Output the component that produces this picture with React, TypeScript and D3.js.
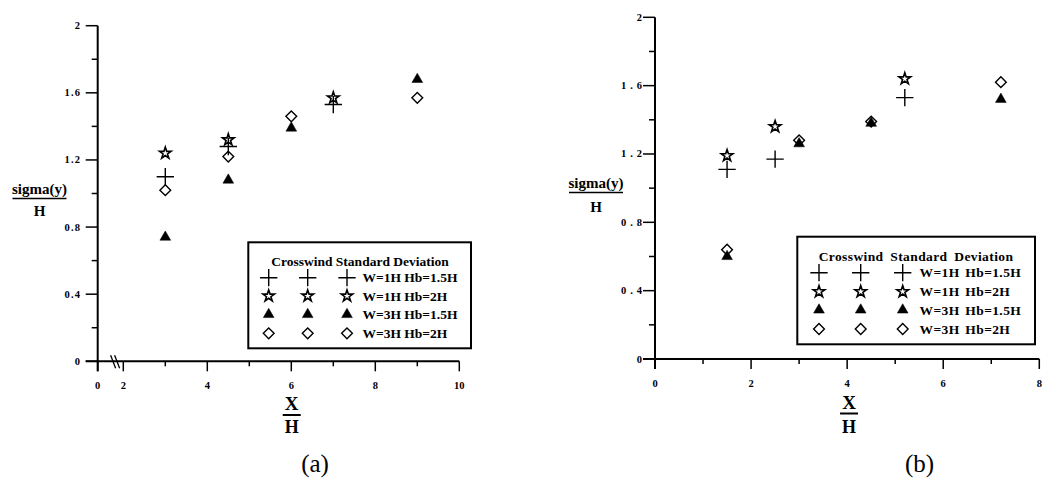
import React from "react";
import * as d3 from "d3";

// legend text
const legendTitle = "Crosswind Standard Deviation";
const seriesNames = ["W=1H Hb=1.5H", "W=1H Hb=2H", "W=3H Hb=1.5H", "W=3H Hb=2H"];
const seriesKinds = ["plus", "star", "triangle", "diamond"];

// panel (a) values
const aPlusX = [3, 4.5, 7];
const aPlusY = [1.1, 1.28, 1.53];
const aStarX = [3, 4.5, 7];
const aStarY = [1.24, 1.32, 1.57];
const aTriX = [3, 4.5, 6, 9];
const aTriY = [0.74, 1.08, 1.39, 1.68];
const aDiaX = [3, 4.5, 6, 9];
const aDiaY = [1.02, 1.22, 1.46, 1.57];

// panel (b) values
const bPlusX = [1.5, 2.5, 5.2];
const bPlusY = [1.11, 1.17, 1.53];
const bStarX = [1.5, 2.5, 5.2];
const bStarY = [1.19, 1.36, 1.64];
const bTriX = [1.5, 3, 4.5, 7.2];
const bTriY = [0.6, 1.26, 1.38, 1.52];
const bDiaX = [1.5, 3, 4.5, 7.2];
const bDiaY = [0.64, 1.28, 1.39, 1.62];

// ticks
const yMajor = [0, 0.4, 0.8, 1.2, 1.6, 2];
const yMinor = [0.2, 0.6, 1.0, 1.4, 1.8];
const aXMajor = [0, 2, 4, 6, 8, 10];
const aXMinor = [3, 5, 7, 9];
const bXMajor = [0, 2, 4, 6, 8];
const bXMinor = [1, 3, 5, 7];

const FONT = "'Liberation Serif', 'Times New Roman', serif";

const symbolPath = (kind: string) => {
  if (kind === "plus") return d3.symbol(d3.symbolPlus, 100)();
  if (kind === "star") return d3.symbol(d3.symbolStar, 42)();
  if (kind === "triangle") return d3.symbol(d3.symbolTriangle, 50)();
  return d3.symbol(d3.symbolDiamond2, 74)();
};

function Marker({ kind, x, y }: { kind: string; x: number; y: number }) {
  const filled = kind === "triangle";
  return (
    <path
      d={symbolPath(kind) || ""}
      transform={`translate(${x},${y})`}
      fill={filled ? "#000" : "none"}
      stroke="#000"
      strokeWidth={filled ? 0.5 : kind === "star" ? 1.6 : 1.4}
      strokeLinejoin="miter"
    />
  );
}

function Panel(props: any) {
  const { series, xDomain, xRange, xMajor, xMinor, yTop, yBottom, yAxisX, legend, lab, ytl, caption, brk } = props;
  const x = d3.scaleLinear().domain(xDomain).range(xRange);
  const y = d3.scaleLinear().domain([0, 2]).range([yBottom, yTop]);
  const xEnd = xRange[xRange.length - 1];
  const fmt = (v: number) => (v === 0 || v === 2 ? String(v) : d3.format(".1f")(v));

  return (
    <g fontFamily={FONT}>
      {/* axes */}
      <line x1={yAxisX} x2={yAxisX} y1={yTop} y2={yBottom + 10} stroke="#000" strokeWidth={2} />
      <line x1={yAxisX - 12} x2={xEnd} y1={yBottom} y2={yBottom} stroke="#000" strokeWidth={2} />
      {yMajor.map((v) => (
        <g key={"ym" + v}>
          <line x1={yAxisX - 12} x2={yAxisX} y1={y(v)} y2={y(v)} stroke="#000" strokeWidth={1.5} />
          <text x={yAxisX - ytl.gap} y={y(v) + 3.5} textAnchor="end" fontSize={10.5} fontWeight="bold" letterSpacing={ytl.ls}>
            {fmt(v)}
          </text>
        </g>
      ))}
      {yMinor.map((v) => (
        <line key={"yn" + v} x1={yAxisX - 6} x2={yAxisX} y1={y(v)} y2={y(v)} stroke="#000" strokeWidth={1.5} />
      ))}
      {xMajor.map((v: number) => (
        <g key={"xm" + v}>
          <line x1={x(v)} x2={x(v)} y1={yBottom} y2={yBottom + 10} stroke="#000" strokeWidth={1.5} />
          <text x={x(v)} y={yBottom + 28} textAnchor="middle" fontSize={10.5} fontWeight="bold">
            {v}
          </text>
        </g>
      ))}
      {xMinor.map((v: number) => (
        <line key={"xn" + v} x1={x(v)} x2={x(v)} y1={yBottom} y2={yBottom + 5} stroke="#000" strokeWidth={1.5} />
      ))}
      {brk != null &&
        [-2, 2].map((o) => (
          <line key={"br" + o} x1={x(brk) + o - 3} x2={x(brk) + o + 2} y1={yBottom - 6} y2={yBottom + 7} stroke="#000" strokeWidth={1.3} />
        ))}

      {/* points */}
      {series.map((s: any, i: number) =>
        s.xs.map((xv: number, j: number) => <Marker key={i + "-" + j} kind={seriesKinds[i]} x={x(xv)} y={y(s.ys[j])} />)
      )}

      {/* legend */}
      <rect x={legend.x} y={legend.y} width={legend.w} height={legend.h} fill="#fff" stroke="#000" strokeWidth={2} />
      <text x={legend.titleX} y={legend.titleY} textAnchor="middle" fontSize={legend.fs} fontWeight="bold" wordSpacing={legend.ws} letterSpacing={legend.ls}>
        {legendTitle}
      </text>
      {seriesNames.map((name, i) => (
        <g key={"lg" + i}>
          {legend.cols.map((cx: number) => (
            <Marker key={cx} kind={seriesKinds[i]} x={cx} y={legend.rows[i]} />
          ))}
          <text x={legend.textX} y={legend.rows[i] + 4.5} fontSize={legend.fs} fontWeight="bold" wordSpacing={legend.ws2} letterSpacing={legend.ls}>
            {name}
          </text>
        </g>
      ))}

      {/* axis titles */}
      <text x={lab.yx} y={lab.sy} textAnchor="middle" fontSize={15} fontWeight="bold">sigma(y)</text>
      <line x1={lab.yx - 27} x2={lab.yx + 27} y1={lab.by} y2={lab.by} stroke="#000" strokeWidth={1.5} />
      <text x={lab.yx} y={lab.hy} textAnchor="middle" fontSize={15} fontWeight="bold">H</text>
      <text x={lab.xx} y={lab.xy} textAnchor="middle" fontSize={19} fontWeight="bold">X</text>
      <line x1={lab.xx - 9} x2={lab.xx + 9} y1={lab.xby} y2={lab.xby} stroke="#000" strokeWidth={2} />
      <text x={lab.xx} y={lab.xhy} textAnchor="middle" fontSize={18} fontWeight="bold">H</text>

      <text x={caption.x} y={caption.y} textAnchor="middle" fontSize={25}>{caption.text}</text>
    </g>
  );
}

export default function App() {
  const aSeries = [
    { xs: aPlusX, ys: aPlusY },
    { xs: aStarX, ys: aStarY },
    { xs: aTriX, ys: aTriY },
    { xs: aDiaX, ys: aDiaY },
  ];
  const bSeries = [
    { xs: bPlusX, ys: bPlusY },
    { xs: bStarX, ys: bStarY },
    { xs: bTriX, ys: bTriY },
    { xs: bDiaX, ys: bDiaY },
  ];
  return (
    <svg width={1050} height={480} style={{ position: "absolute", left: 0, top: 0, background: "#fff" }}>
      <rect width={1050} height={480} fill="#fff" />
      <Panel
        series={aSeries}
        xDomain={[0, 2, 10]}
        xRange={[97.7, 123.3, 459.3]}
        xMajor={aXMajor}
        xMinor={aXMinor}
        yTop={25.7}
        yBottom={361.3}
        yAxisX={97.7}
        brk={1.4}
        ytl={{ gap: 16.5, ls: 1.2 }}
        legend={{ x: 248.3, y: 242.3, w: 222.7, h: 106, titleX: 360, titleY: 265.5, fs: 13.5, ws: 0, ws2: 0, ls: 0, rows: [277.7, 296, 314.5, 333.3], cols: [268.7, 307.7, 347], textX: 362.5 }}
        lab={{ yx: 39.5, sy: 193.5, by: 198.5, hy: 215.5, xx: 291.7, xy: 410, xby: 415, xhy: 432.5 }}
        caption={{ x: 315, y: 472, text: "(a)" }}
      />
      <Panel
        series={bSeries}
        xDomain={[0, 8]}
        xRange={[655, 1039.3]}
        xMajor={bXMajor}
        xMinor={bXMinor}
        yTop={17.3}
        yBottom={359}
        yAxisX={655}
        brk={null}
        ytl={{ gap: 9, ls: 4 }}
        legend={{ x: 797.3, y: 236.7, w: 237.7, h: 107.6, titleX: 916, titleY: 261, fs: 13.5, ws: 3, ws2: 2, ls: 0.4, rows: [272.7, 291.7, 310, 329], cols: [819, 860.7, 902.7], textX: 919.5 }}
        lab={{ yx: 596, sy: 187.5, by: 192.5, hy: 211.5, xx: 849, xy: 409, xby: 413.5, xhy: 432.5 }}
        caption={{ x: 919.5, y: 472, text: "(b)" }}
      />
    </svg>
  );
}
